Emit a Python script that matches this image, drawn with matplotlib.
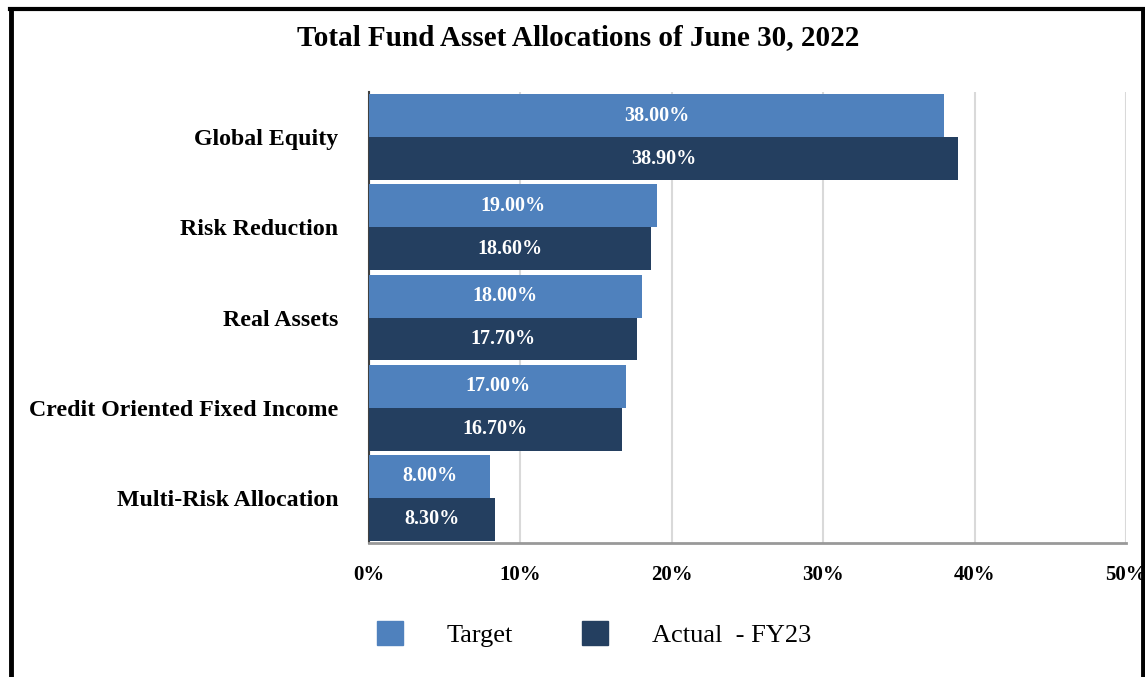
import matplotlib
matplotlib.use("Agg")
import matplotlib.pyplot as plt
import matplotlib.patches as mpatches
import numpy as np

categories = ["Global Equity", "Risk Reduction", "Real Assets",
              "Credit Oriented Fixed Income", "Multi-Risk Allocation"]
target = [38.0, 19.0, 18.0, 17.0, 8.0]
actual = [38.9, 18.6, 17.7, 16.7, 8.3]
x_ticks = [0, 10, 20, 30, 40, 50]

TARGET_COLOR = "#4F81BD"
ACTUAL_COLOR = "#243F60"
SERIF = ["Liberation Serif", "DejaVu Serif"]

plt.rcParams["font.family"] = SERIF

W, H = 1145, 677
fig = plt.figure(figsize=(W / 100, H / 100), dpi=100)
ax = fig.add_axes([369 / W, 1 - 543 / H, (1126 - 369) / W, (543 - 92) / H])

y = np.arange(len(categories))
h = 0.475
ax.barh(y - h / 2, target, height=h, color=TARGET_COLOR, label="Target", zorder=3)
ax.barh(y + h / 2, actual, height=h, color=ACTUAL_COLOR, label="Actual  - FY23", zorder=3)

for yi, t, a in zip(y, target, actual):
    ax.text(t / 2, yi - h / 2, "{0:.2f}%".format(t), ha="center", va="center",
            color="white", fontsize=14.5, fontweight="bold", zorder=4)
    ax.text(a / 2, yi + h / 2, "{0:.2f}%".format(a), ha="center", va="center",
            color="white", fontsize=14.5, fontweight="bold", zorder=4)

ax.set_ylim(len(categories) - 0.5, -0.5)
ax.set_xlim(0, 50)
ax.set_yticks(y)
ax.set_yticklabels(categories, fontsize=17.2, fontweight="bold")
ax.set_xticks(x_ticks)
ax.set_xticklabels(["{0}%".format(v) for v in x_ticks], fontsize=15, fontweight="bold")
ax.tick_params(axis="both", length=0)
ax.tick_params(axis="y", pad=22)
ax.tick_params(axis="x", pad=16)

ax.grid(axis="x", color="#D9D9D9", linewidth=1.5, zorder=0)
for side in ["top", "right"]:
    ax.spines[side].set_visible(False)
ax.spines["left"].set_color("#404040")
ax.spines["left"].set_linewidth(1.5)
ax.spines["bottom"].set_color("#999999")
ax.spines["bottom"].set_linewidth(2)

fig.text(578 / W, 1 - 38 / H, "Total Fund Asset Allocations of June 30, 2022",
         ha="center", va="center", fontsize=21, fontweight="bold")

handles = [mpatches.Patch(color=TARGET_COLOR), mpatches.Patch(color=ACTUAL_COLOR)]
fig.legend(handles, ["Target", "Actual  - FY23"], loc="center",
           bbox_to_anchor=(594 / W, 1 - 634 / H), ncol=2, frameon=False,
           fontsize=19, handlelength=1.0, handleheight=1.0, handletextpad=1.65,
           columnspacing=2.6)

# figure border
fig.add_artist(plt.Line2D([10 / W, 1143 / W], [1 - 9 / H, 1 - 9 / H], color="black",
                          linewidth=3, transform=fig.transFigure))
fig.add_artist(plt.Line2D([11 / W, 11 / W], [0, 1 - 9 / H], color="black",
                          linewidth=3.5, transform=fig.transFigure))
fig.add_artist(plt.Line2D([1143 / W, 1143 / W], [0, 1 - 9 / H], color="black",
                          linewidth=3.5, transform=fig.transFigure))

fig.savefig("out.png", dpi=100)
